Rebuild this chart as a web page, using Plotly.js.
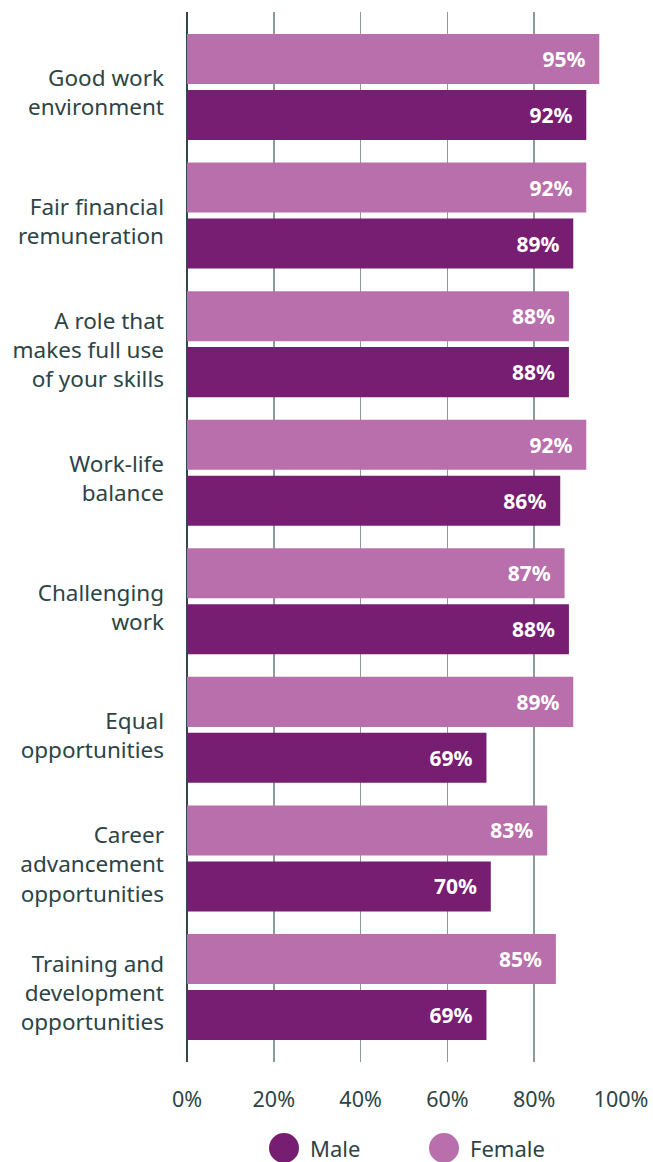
<!DOCTYPE html>
<html>
<head>
<meta charset="utf-8">
<script src="https://cdn.plot.ly/plotly-3.0.1.min.js"></script>
<style>html,body{margin:0;padding:0;background:#fff;}#chart{width:653px;height:1162px;}</style>
</head>
<body>
<div id="chart"></div>
<script>
const categories = [
  "Good work<br>environment",
  "Fair financial<br>remuneration",
  "A role that<br>makes full use<br>of your skills",
  "Work-life<br>balance",
  "Challenging<br>work",
  "Equal<br>opportunities",
  "Career<br>advancement<br>opportunities",
  "Training and<br>development<br>opportunities"
];
const femaleValues = [95, 92, 88, 92, 87, 89, 83, 85];
const maleValues = [92, 89, 88, 86, 88, 69, 70, 69];
const seriesNames = ["Male", "Female"];
const tickValues = [0, 20, 40, 60, 80, 100];
const tickLabels = ["0%", "20%", "40%", "60%", "80%", "100%"];

const MALE = "#771d72";
const FEMALE = "#b86fab";
const TXT = "#2c4446";
const FONT = "'Noto Sans', 'Open Sans', sans-serif";
const pad = "\u00a0\u00a0";

function barTrace(name, vals, color) {
  return {
    type: "bar", orientation: "h", name: name,
    x: vals, y: categories,
    marker: {color: color},
    text: vals.map(v => v + "%" + pad),
    textposition: "inside", insidetextanchor: "end",
    textfont: {family: FONT, size: 21, color: "#ffffff", weight: 700},
    cliponaxis: false, hoverinfo: "skip", showlegend: false
  };
}

const data = [
  barTrace(seriesNames[1], femaleValues, FEMALE),
  barTrace(seriesNames[0], maleValues, MALE)
];

const L = 187, R = 32, T = 12, B = 100, W = 653, H = 1162;
const pw = W - L - R, ph = H - T - B;
function px2paperX(px) { return (px - L) / pw; }
function px2paperY(py) { return (H - B - py) / ph; }

const legendY = px2paperY(1148);
const legendItems = [
  {name: seriesNames[0], color: MALE, cx: 284},
  {name: seriesNames[1], color: FEMALE, cx: 444}
];
const shapes = legendItems.map(it => ({
  type: "circle", xref: "paper", yref: "paper",
  xsizemode: "pixel", ysizemode: "pixel",
  xanchor: px2paperX(it.cx), yanchor: legendY,
  x0: -15, x1: 15, y0: -15, y1: 15,
  fillcolor: it.color, line: {width: 0}
}));
const annotations = legendItems.map(it => ({
  xref: "paper", yref: "paper",
  x: px2paperX(it.cx + 24), y: legendY,
  xanchor: "left", yanchor: "middle",
  text: it.name, showarrow: false,
  font: {family: FONT, size: 22, color: TXT}
}));

const layout = {
  width: W, height: H,
  margin: {l: L, r: R, t: T, b: B, autoexpand: false},
  paper_bgcolor: "#ffffff", plot_bgcolor: "#ffffff",
  barmode: "group", bargap: 0.129, bargroupgap: 0.107,
  showlegend: false,
  font: {family: FONT, color: TXT, size: 21},
  xaxis: {
    range: [0, 100], tickvals: tickValues, ticktext: tickLabels,
    showgrid: true, gridcolor: "#8c9a9b", gridwidth: 1.5,
    zeroline: true, zerolinecolor: "#34474a", zerolinewidth: 1.5,
    showline: false, ticks: "", ticklabelstandoff: 22,
    tickfont: {family: FONT, size: 21.5, color: TXT}, fixedrange: true
  },
  yaxis: {
    type: "category", categoryorder: "array", categoryarray: categories,
    range: [7.583, -0.583],
    showgrid: false, zeroline: false, showline: false, ticks: "",
    ticklabelstandoff: 22, ticklabelshift: -6,
    tickfont: {family: FONT, size: 22.5, color: TXT}, fixedrange: true
  },
  shapes: shapes,
  annotations: annotations
};

Plotly.newPlot("chart", data, layout, {displayModeBar: false, staticPlot: true});
</script>
</body>
</html>
